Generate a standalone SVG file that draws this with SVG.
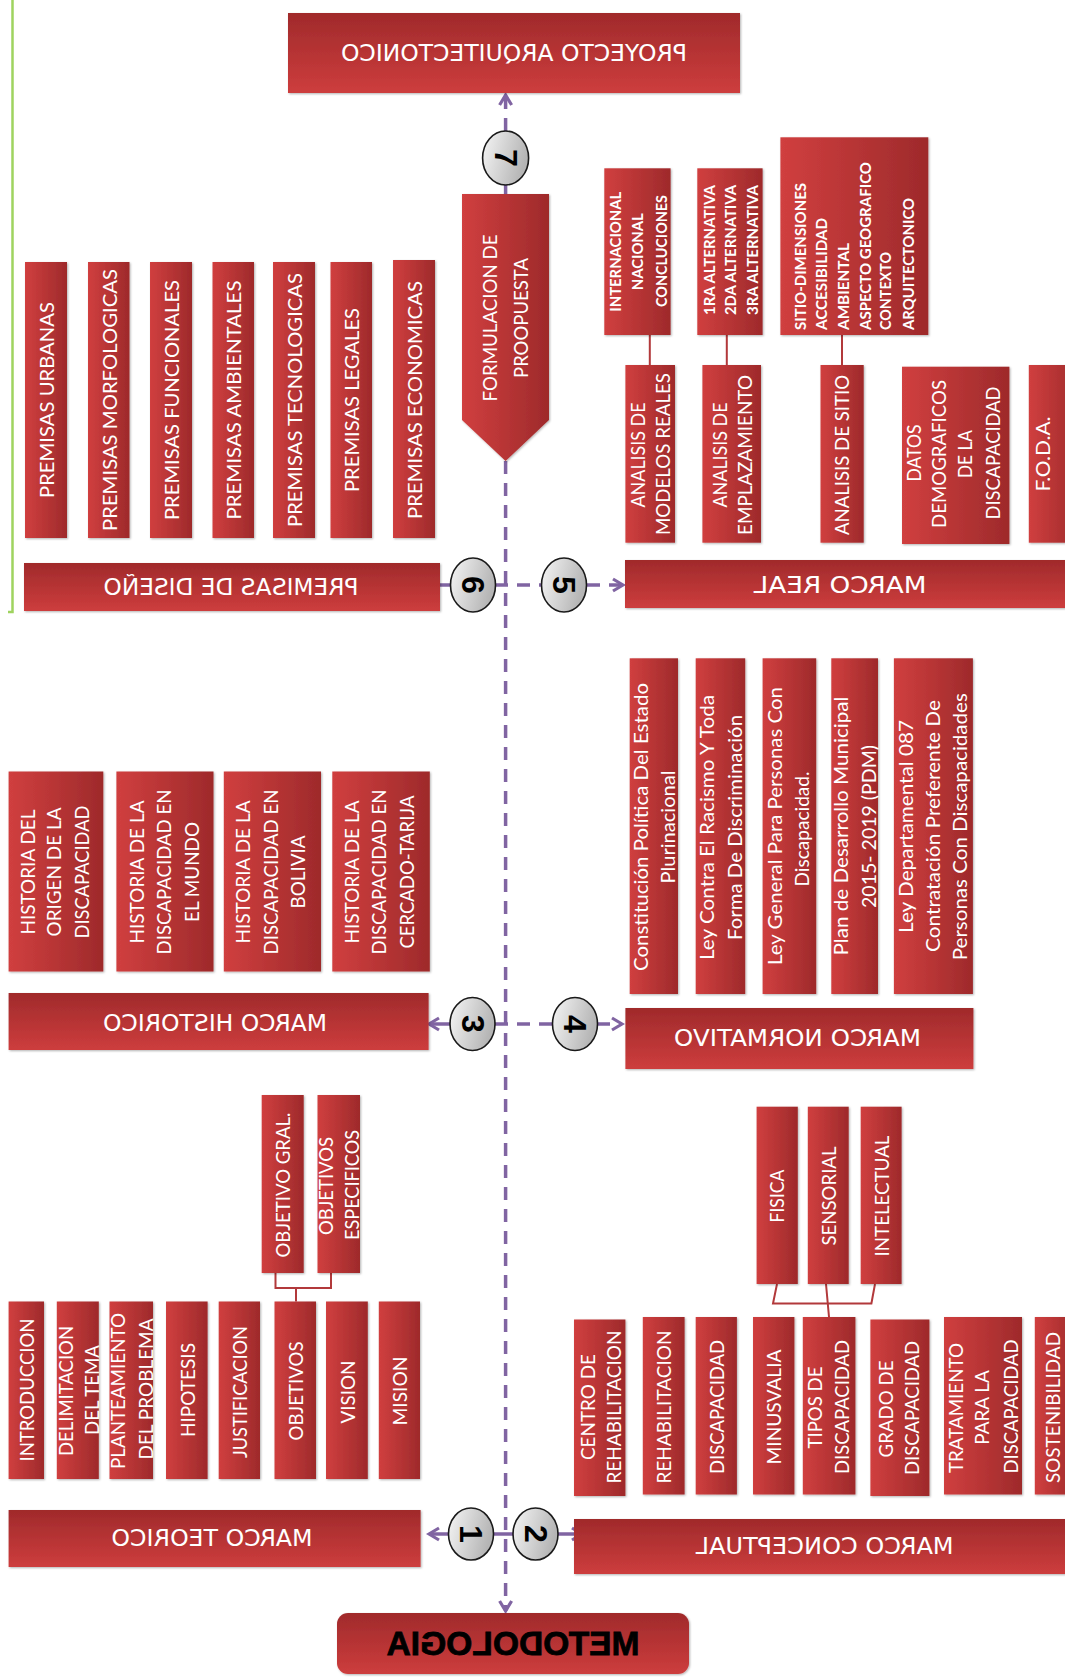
<svg xmlns="http://www.w3.org/2000/svg" width="1065" height="1679" viewBox="0 0 1065 1679">
<defs>
<linearGradient id="gv" x1="0" y1="0" x2="1" y2="0"><stop offset="0" stop-color="#d03f3f"/><stop offset="1" stop-color="#9e2a2b"/></linearGradient>
<linearGradient id="gh" x1="0" y1="0" x2="0" y2="1"><stop offset="0" stop-color="#a02a2b"/><stop offset="1" stop-color="#cd3d3d"/></linearGradient>
<linearGradient id="gc" x1="0" y1="0" x2="1" y2="0.3"><stop offset="0" stop-color="#f6f6f6"/><stop offset="1" stop-color="#b5b5b5"/></linearGradient>
<filter id="sh" x="-10%" y="-10%" width="125%" height="125%"><feDropShadow dx="1" dy="1" stdDeviation="1" flood-color="#000" flood-opacity="0.3"/></filter>
<marker id="ah" markerUnits="userSpaceOnUse" markerWidth="16" markerHeight="16" viewBox="0 0 16 16" refX="13" refY="8" orient="auto"><path d="M3,2 L13,8 L3,14" fill="none" stroke="#8064A2" stroke-width="3.2"/></marker>
</defs>
<style>
.v{fill:url(#gv);filter:url(#sh)}
.h{fill:url(#gh);filter:url(#sh)}
.t{font-family:Lato,"Open Sans",sans-serif;font-size:19px;fill:#fff;text-anchor:middle;dominant-baseline:central}
.tb{font-weight:bold;font-size:15px}
.s{text-anchor:start}
.ht{font-family:"DejaVu Sans",sans-serif;font-size:23px;fill:#fff;text-anchor:middle;dominant-baseline:central}
.cn{fill:none;stroke:#b2393b;stroke-width:2}
.d{fill:none;stroke:#8064A2;stroke-width:3.5;stroke-dasharray:13 9}
.a{fill:none;stroke:#8064A2;stroke-width:3.5}
.c{fill:url(#gc);stroke:#1a1a1a;stroke-width:1.6}
.n{font-family:"Liberation Sans",sans-serif;font-weight:bold;font-size:32px;fill:#000;text-anchor:middle;dominant-baseline:central}
.g{fill:none;stroke:#9fd35f;stroke-width:2.5}
</style>

<path class="g" d="M12.5,0 V612 H8"/>

<g id="connectors">
<path class="d" d="M505.6,461 V1611" marker-end="url(#ah)"/>
<path class="d" d="M505.6,131 V95" marker-end="url(#ah)"/>
<path class="d" d="M505.6,185 V194"/>
<path class="a" d="M451,585 H422" marker-end="url(#ah)"/>
<path class="d" d="M495,585 H542"/>
<path class="d" d="M587,585 H623" marker-end="url(#ah)"/>
<path class="a" d="M450,1024 H429" marker-end="url(#ah)"/>
<path class="d" d="M495,1024 H553"/>
<path class="d" d="M597,1024 H622" marker-end="url(#ah)"/>
<path class="a" d="M448.5,1534 H429" marker-end="url(#ah)"/>
<path class="a" d="M493.5,1534 H513"/>
<path class="a" d="M558,1534 H582" marker-end="url(#ah)"/>
<path class="cn" d="M649.8,335 V365 M726.8,335 V365 M842,335 V365"/>
<path class="cn" d="M275.5,1273 V1288 H331 V1273 M296,1288 V1301.5"/>
<path class="cn" d="M777,1284 L773,1303.5 H871.4 L875,1284 M826,1284 L829,1317"/>
</g>

<g id="proyecto"><rect class="h" x="288" y="13" width="452" height="80"/>
<text class="ht" transform="translate(514,53) scale(-1,1)" textLength="346" lengthAdjust="spacingAndGlyphs">PROYECTO ARQUITECTONICO</text></g>

<g id="formulacion"><polygon class="v" points="462,194 549,194 549,420 505.6,461 462,420"/>
<text class="t" transform="translate(489,318) rotate(-90)" style="font-size:20px" textLength="167" lengthAdjust="spacingAndGlyphs">FORMULACION DE</text>
<text class="t" transform="translate(520,318) rotate(-90)" style="font-size:20px" textLength="120" lengthAdjust="spacingAndGlyphs">PROOPUESTA</text></g>

<g id="n7"><ellipse class="c" cx="505.6" cy="158" rx="23" ry="27"/><text class="n" transform="translate(505.6,158) rotate(90)">7</text></g>
<g id="n6"><ellipse class="c" cx="473" cy="585" rx="22.5" ry="27"/><text class="n" transform="translate(473,585) rotate(90)">6</text></g>
<g id="n5"><ellipse class="c" cx="564" cy="585" rx="22.5" ry="27"/><text class="n" transform="translate(564,585) rotate(90)">5</text></g>
<g id="n3"><ellipse class="c" cx="472.5" cy="1024" rx="22.5" ry="26.5"/><text class="n" transform="translate(472.5,1024) rotate(90)">3</text></g>
<g id="n4"><ellipse class="c" cx="575" cy="1024" rx="22.5" ry="26.5"/><text class="n" transform="translate(575,1024) rotate(90)">4</text></g>
<g id="n1"><ellipse class="c" cx="471" cy="1534" rx="22.5" ry="26"/><text class="n" transform="translate(471,1534) rotate(90)">1</text></g>
<g id="n2"><ellipse class="c" cx="535.5" cy="1534" rx="22.5" ry="26"/><text class="n" transform="translate(535.5,1534) rotate(90)">2</text></g>

<g id="premisas-diseno"><rect class="h" x="24" y="563" width="416" height="48"/>
<text class="ht" transform="translate(231,587) scale(-1,1)" textLength="255" lengthAdjust="spacingAndGlyphs">PREMISAS DE DISEÑO</text></g>
<g id="p-urbanas"><rect class="v" x="25" y="262" width="42" height="276"/><text class="t" style="font-size:20px" transform="translate(46,400) rotate(-90)" textLength="196" lengthAdjust="spacingAndGlyphs">PREMISAS URBANAS</text></g>
<g id="p-morfologicas"><rect class="v" x="88" y="262" width="41.5" height="276"/><text class="t" style="font-size:20px" transform="translate(108.7,400) rotate(-90)" textLength="262" lengthAdjust="spacingAndGlyphs">PREMISAS MORFOLOGICAS</text></g>
<g id="p-funcionales"><rect class="v" x="150" y="262" width="42" height="276"/><text class="t" style="font-size:20px" transform="translate(171,400) rotate(-90)" textLength="240" lengthAdjust="spacingAndGlyphs">PREMISAS FUNCIONALES</text></g>
<g id="p-ambientales"><rect class="v" x="212.5" y="262" width="41.5" height="276"/><text class="t" style="font-size:20px" transform="translate(233,400) rotate(-90)" textLength="239" lengthAdjust="spacingAndGlyphs">PREMISAS AMBIENTALES</text></g>
<g id="p-tecnologicas"><rect class="v" x="273" y="262" width="42" height="276"/><text class="t" style="font-size:20px" transform="translate(294,400) rotate(-90)" textLength="254" lengthAdjust="spacingAndGlyphs">PREMISAS TECNOLOGICAS</text></g>
<g id="p-legales"><rect class="v" x="330.5" y="262" width="41.5" height="276"/><text class="t" style="font-size:20px" transform="translate(351,400) rotate(-90)" textLength="184" lengthAdjust="spacingAndGlyphs">PREMISAS LEGALES</text></g>
<g id="p-economicas"><rect class="v" x="393" y="260" width="42" height="278"/><text class="t" style="font-size:20px" transform="translate(414,400) rotate(-90)" textLength="238" lengthAdjust="spacingAndGlyphs">PREMISAS ECONOMICAS</text></g>

<g id="marco-real"><rect class="h" x="625" y="560" width="460" height="48"/>
<text class="ht" transform="translate(840,585) scale(-1,1)" textLength="173" lengthAdjust="spacingAndGlyphs">MARCO  REAL</text></g>
<g id="r-modelos"><rect class="v" x="625.4" y="365" width="49.6" height="177.7"/>
<text class="t" style="font-size:19.5px" transform="translate(637,455) rotate(-90)" textLength="105" lengthAdjust="spacingAndGlyphs">ANALISIS DE</text>
<text class="t" style="font-size:19.5px" transform="translate(662,454) rotate(-90)" textLength="162" lengthAdjust="spacingAndGlyphs">MODELOS REALES</text></g>
<g id="r-emplazamiento"><rect class="v" x="702.4" y="365" width="58.6" height="177.7"/>
<text class="t" style="font-size:19.5px" transform="translate(719,455) rotate(-90)" textLength="105" lengthAdjust="spacingAndGlyphs">ANALISIS DE</text>
<text class="t" style="font-size:19.5px" transform="translate(744,455) rotate(-90)" textLength="160" lengthAdjust="spacingAndGlyphs">EMPLAZAMIENTO</text></g>
<g id="r-sitio"><rect class="v" x="820.5" y="365" width="43.2" height="177.7"/>
<text class="t" style="font-size:19.5px" transform="translate(841.5,455) rotate(-90)" textLength="160" lengthAdjust="spacingAndGlyphs">ANALISIS DE SITIO</text></g>
<g id="r-datos"><rect class="v" x="902" y="366.7" width="107.4" height="177.3"/>
<text class="t" style="font-size:19.5px" transform="translate(913.3,453) rotate(-90)" textLength="57" lengthAdjust="spacingAndGlyphs">DATOS</text>
<text class="t" style="font-size:19.5px" transform="translate(938.4,454) rotate(-90)" textLength="148" lengthAdjust="spacingAndGlyphs">DEMOGRAFICOS</text>
<text class="t" style="font-size:19.5px" transform="translate(964.5,454) rotate(-90)" textLength="48" lengthAdjust="spacingAndGlyphs">DE LA</text>
<text class="t" style="font-size:19.5px" transform="translate(992,453) rotate(-90)" textLength="133" lengthAdjust="spacingAndGlyphs">DISCAPACIDAD</text></g>
<g id="r-foda"><rect class="v" x="1028.8" y="365" width="50" height="177.7"/>
<text class="t" style="font-size:19.5px" transform="translate(1042,454) rotate(-90)" textLength="75" lengthAdjust="spacingAndGlyphs">F.O.D.A.</text></g>
<g id="r-internacional"><rect class="v" x="604.3" y="168.3" width="66.3" height="166.7"/>
<text class="t tb" transform="translate(615.3,251.7) rotate(-90)" textLength="120" lengthAdjust="spacingAndGlyphs">INTERNACIONAL</text>
<text class="t tb" transform="translate(637,251.7) rotate(-90)" textLength="77" lengthAdjust="spacingAndGlyphs">NACIONAL</text>
<text class="t tb" transform="translate(660.5,251) rotate(-90)" textLength="112" lengthAdjust="spacingAndGlyphs">CONCLUCIONES</text></g>
<g id="r-alternativas"><rect class="v" x="697.3" y="168.3" width="65.3" height="166.7"/>
<text class="t tb" transform="translate(709,250) rotate(-90)" textLength="130" lengthAdjust="spacingAndGlyphs">1RA  ALTERNATIVA</text>
<text class="t tb" transform="translate(730.2,250) rotate(-90)" textLength="130" lengthAdjust="spacingAndGlyphs">2DA ALTERNATIVA</text>
<text class="t tb" transform="translate(751.6,250) rotate(-90)" textLength="130" lengthAdjust="spacingAndGlyphs">3RA  ALTERNATIVA</text></g>
<g id="r-sitio-detalle"><rect class="v" x="780.4" y="137.3" width="147.9" height="197.7"/>
<text class="t tb s" transform="translate(799.5,330) rotate(-90)" textLength="147" lengthAdjust="spacingAndGlyphs">SITIO-DIMENSIONES</text>
<text class="t tb s" transform="translate(821.2,330) rotate(-90)" textLength="112" lengthAdjust="spacingAndGlyphs">ACCESIBILIDAD</text>
<text class="t tb s" transform="translate(843,330) rotate(-90)" textLength="87" lengthAdjust="spacingAndGlyphs">AMBIENTAL</text>
<text class="t tb s" transform="translate(864.7,330) rotate(-90)" textLength="168" lengthAdjust="spacingAndGlyphs">ASPECTO  GEOGRAFICO</text>
<text class="t tb s" transform="translate(884.8,330) rotate(-90)" textLength="78" lengthAdjust="spacingAndGlyphs">CONTEXTO</text>
<text class="t tb s" transform="translate(908.3,330) rotate(-90)" textLength="132" lengthAdjust="spacingAndGlyphs">ARQUITECTONICO</text></g>

<g id="marco-historico"><rect class="h" x="8.6" y="993" width="420" height="57"/>
<text class="ht" transform="translate(215,1022.7) scale(-1,1)" textLength="224" lengthAdjust="spacingAndGlyphs">MARCO HISTORICO</text></g>
<g id="h-origen"><rect class="v" x="8.6" y="771.5" width="94.7" height="200"/>
<text class="t" transform="translate(27.5,872) rotate(-90)" textLength="125" lengthAdjust="spacingAndGlyphs">HISTORIA DEL</text>
<text class="t" transform="translate(53.4,872) rotate(-90)" textLength="129" lengthAdjust="spacingAndGlyphs">ORIGEN DE LA</text>
<text class="t" transform="translate(81,872) rotate(-90)" textLength="133" lengthAdjust="spacingAndGlyphs">DISCAPACIDAD</text></g>
<g id="h-mundo"><rect class="v" x="116.4" y="771.5" width="97.1" height="200"/>
<text class="t" transform="translate(136,872) rotate(-90)" textLength="143" lengthAdjust="spacingAndGlyphs">HISTORIA DE LA</text>
<text class="t" transform="translate(163.6,872) rotate(-90)" textLength="165" lengthAdjust="spacingAndGlyphs">DISCAPACIDAD EN</text>
<text class="t" transform="translate(191,872) rotate(-90)" textLength="100" lengthAdjust="spacingAndGlyphs">EL MUNDO</text></g>
<g id="h-bolivia"><rect class="v" x="223.8" y="771.5" width="97.2" height="200"/>
<text class="t" transform="translate(242.8,872) rotate(-90)" textLength="143" lengthAdjust="spacingAndGlyphs">HISTORIA DE LA</text>
<text class="t" transform="translate(270.3,872) rotate(-90)" textLength="165" lengthAdjust="spacingAndGlyphs">DISCAPACIDAD EN</text>
<text class="t" transform="translate(297.9,872) rotate(-90)" textLength="73" lengthAdjust="spacingAndGlyphs">BOLIVIA</text></g>
<g id="h-tarija"><rect class="v" x="332.3" y="771.5" width="97.5" height="200"/>
<text class="t" transform="translate(351,872) rotate(-90)" textLength="143" lengthAdjust="spacingAndGlyphs">HISTORIA DE LA</text>
<text class="t" transform="translate(378.8,872) rotate(-90)" textLength="165" lengthAdjust="spacingAndGlyphs">DISCAPACIDAD EN</text>
<text class="t" transform="translate(406,872) rotate(-90)" textLength="153" lengthAdjust="spacingAndGlyphs">CERCADO-TARIJA</text></g>

<g id="marco-normativo"><rect class="h" x="625.4" y="1008" width="348" height="61"/>
<text class="ht" transform="translate(797.5,1038) scale(-1,1)" textLength="247" lengthAdjust="spacingAndGlyphs">MARCO NORMATIVO</text></g>
<g id="nm-constitucion"><rect class="v" x="629.7" y="658.3" width="48.3" height="335.7"/>
<text class="t" style="font-size:20px" transform="translate(640.4,827) rotate(-90)" textLength="288" lengthAdjust="spacingAndGlyphs">Constitución  Política Del Estado</text>
<text class="t" style="font-size:20px" transform="translate(667.2,827) rotate(-90)" textLength="113" lengthAdjust="spacingAndGlyphs">Plurinacional</text></g>
<g id="nm-racismo"><rect class="v" x="695.7" y="658.3" width="49.5" height="335.7"/>
<text class="t" style="font-size:20px" transform="translate(705.7,827.5) rotate(-90)" textLength="265" lengthAdjust="spacingAndGlyphs">Ley Contra El Racismo  Y Toda</text>
<text class="t" style="font-size:20px" transform="translate(733.5,827.5) rotate(-90)" textLength="225" lengthAdjust="spacingAndGlyphs">Forma  De Discriminación</text></g>
<g id="nm-ley-general"><rect class="v" x="762.6" y="658.3" width="53.6" height="335.7"/>
<text class="t" style="font-size:20px" transform="translate(774.3,826) rotate(-90)" textLength="278" lengthAdjust="spacingAndGlyphs">Ley General Para Personas Con</text>
<text class="t" style="font-size:20px" transform="translate(801,829) rotate(-90)" textLength="115" lengthAdjust="spacingAndGlyphs">Discapacidad.</text></g>
<g id="nm-pdm"><rect class="v" x="831.3" y="658.3" width="46.7" height="335.7"/>
<text class="t" style="font-size:20px" transform="translate(839.6,826) rotate(-90)" textLength="259" lengthAdjust="spacingAndGlyphs">Plan de Desarrollo Municipal</text>
<text class="t" style="font-size:20px" transform="translate(868,826.5) rotate(-90)" textLength="163" lengthAdjust="spacingAndGlyphs">2015- 2019 (PDM)</text></g>
<g id="nm-ley-087"><rect class="v" x="893.9" y="658.3" width="79" height="335.7"/>
<text class="t" style="font-size:20px" transform="translate(905,826.5) rotate(-90)" textLength="213" lengthAdjust="spacingAndGlyphs">Ley Departamental 087</text>
<text class="t" style="font-size:20px" transform="translate(931.7,826) rotate(-90)" textLength="252" lengthAdjust="spacingAndGlyphs">Contratación  Preferente De</text>
<text class="t" style="font-size:20px" transform="translate(958.5,826.7) rotate(-90)" textLength="267" lengthAdjust="spacingAndGlyphs">Personas  Con  Discapacidades</text></g>

<g id="marco-teorico"><rect class="h" x="8.6" y="1510" width="412" height="57"/>
<text class="ht" transform="translate(212,1538) scale(-1,1)" textLength="201" lengthAdjust="spacingAndGlyphs">MARCO TEORICO</text></g>
<g id="t-introduccion"><rect class="v" x="8.6" y="1301.5" width="35.4" height="177.5"/><text class="t" transform="translate(26,1390) rotate(-90)" textLength="143" lengthAdjust="spacingAndGlyphs">INTRODUCCION</text></g>
<g id="t-delimitacion"><rect class="v" x="56.8" y="1301.5" width="42" height="177.5"/>
<text class="t" transform="translate(65,1391) rotate(-90)" textLength="130" lengthAdjust="spacingAndGlyphs">DELIMITACION</text>
<text class="t" transform="translate(91,1390) rotate(-90)" textLength="90" lengthAdjust="spacingAndGlyphs">DEL TEMA</text></g>
<g id="t-planteamiento"><rect class="v" x="109.5" y="1301.5" width="43.5" height="177.5"/>
<text class="t" transform="translate(117,1391) rotate(-90)" textLength="156" lengthAdjust="spacingAndGlyphs">PLANTEAMIENTO</text>
<text class="t" transform="translate(145,1389) rotate(-90)" textLength="141" lengthAdjust="spacingAndGlyphs">DEL PROBLEMA</text></g>
<g id="t-hipotesis"><rect class="v" x="166" y="1301.5" width="41.6" height="177.5"/><text class="t" transform="translate(187,1390) rotate(-90)" textLength="94" lengthAdjust="spacingAndGlyphs">HIPOTESIS</text></g>
<g id="t-justificacion"><rect class="v" x="218.7" y="1301.5" width="41.3" height="177.5"/><text class="t" transform="translate(239,1392) rotate(-90)" textLength="132" lengthAdjust="spacingAndGlyphs">JUSTIFICACION</text></g>
<g id="t-objetivos"><rect class="v" x="274.5" y="1301.5" width="41.5" height="177.5"/><text class="t" transform="translate(295,1391) rotate(-90)" textLength="99" lengthAdjust="spacingAndGlyphs">OBJETIVOS</text></g>
<g id="t-vision"><rect class="v" x="326" y="1301.5" width="41.8" height="177.5"/><text class="t" transform="translate(347,1392) rotate(-90)" textLength="63" lengthAdjust="spacingAndGlyphs">VISION</text></g>
<g id="t-mision"><rect class="v" x="378.8" y="1301.5" width="41.2" height="177.5"/><text class="t" transform="translate(399.5,1391) rotate(-90)" textLength="69" lengthAdjust="spacingAndGlyphs">MISION</text></g>
<g id="t-objetivo-gral"><rect class="v" x="261.7" y="1095" width="42" height="178"/><text class="t" transform="translate(282.7,1185) rotate(-90)" textLength="145" lengthAdjust="spacingAndGlyphs">OBJETIVO GRAL.</text></g>
<g id="t-objetivos-esp"><rect class="v" x="317.5" y="1095" width="42.5" height="178"/>
<text class="t" transform="translate(325.4,1186) rotate(-90)" textLength="98" lengthAdjust="spacingAndGlyphs">OBJETIVOS</text>
<text class="t" transform="translate(351,1185) rotate(-90)" textLength="110" lengthAdjust="spacingAndGlyphs">ESPECIFICOS</text></g>

<g id="marco-conceptual"><rect class="h" x="574" y="1519" width="511" height="55"/>
<text class="ht" transform="translate(824.6,1546) scale(-1,1)" textLength="258" lengthAdjust="spacingAndGlyphs">MARCO CONCEPTUAL</text></g>
<g id="c-centro"><rect class="v" x="574" y="1319.5" width="51.4" height="176.5"/>
<text class="t" transform="translate(587,1407) rotate(-90)" textLength="106" lengthAdjust="spacingAndGlyphs">CENTRO DE</text>
<text class="t" transform="translate(613,1407) rotate(-90)" textLength="153" lengthAdjust="spacingAndGlyphs">REHABILITACION</text></g>
<g id="c-rehabilitacion"><rect class="v" x="642.8" y="1317" width="41.8" height="177.5"/><text class="t" transform="translate(663,1407) rotate(-90)" textLength="153" lengthAdjust="spacingAndGlyphs">REHABILITACION</text></g>
<g id="c-discapacidad"><rect class="v" x="695.7" y="1317" width="41.2" height="177.5"/><text class="t" transform="translate(716,1407) rotate(-90)" textLength="134" lengthAdjust="spacingAndGlyphs">DISCAPACIDAD</text></g>
<g id="c-minusvalia"><rect class="v" x="753" y="1317" width="41.4" height="177.5"/><text class="t" transform="translate(773.5,1407) rotate(-90)" textLength="115" lengthAdjust="spacingAndGlyphs">MINUSVALIA</text></g>
<g id="c-tipos"><rect class="v" x="802.8" y="1317" width="52.6" height="177.5"/>
<text class="t" transform="translate(814.5,1407.5) rotate(-90)" textLength="82" lengthAdjust="spacingAndGlyphs">TIPOS DE</text>
<text class="t" transform="translate(841.3,1407) rotate(-90)" textLength="134" lengthAdjust="spacingAndGlyphs">DISCAPACIDAD</text></g>
<g id="c-grado"><rect class="v" x="870.4" y="1319.5" width="59" height="176.5"/>
<text class="t" transform="translate(885,1409) rotate(-90)" textLength="97" lengthAdjust="spacingAndGlyphs">GRADO DE</text>
<text class="t" transform="translate(911.6,1408) rotate(-90)" textLength="134" lengthAdjust="spacingAndGlyphs">DISCAPACIDAD</text></g>
<g id="c-tratamiento"><rect class="v" x="944" y="1317" width="78" height="177.5"/>
<text class="t" transform="translate(955,1408) rotate(-90)" textLength="130" lengthAdjust="spacingAndGlyphs">TRATAMIENTO</text>
<text class="t" transform="translate(981,1407.5) rotate(-90)" textLength="74.5" lengthAdjust="spacingAndGlyphs">PARA LA</text>
<text class="t" transform="translate(1010,1406.5) rotate(-90)" textLength="134" lengthAdjust="spacingAndGlyphs">DISCAPACIDAD</text></g>
<g id="c-sostenibilidad"><rect class="v" x="1034.8" y="1317" width="42" height="177.5"/><text class="t" transform="translate(1052.5,1407.5) rotate(-90)" textLength="151" lengthAdjust="spacingAndGlyphs">SOSTENIBILIDAD</text></g>
<g id="c-fisica"><rect class="v" x="756.6" y="1106.7" width="41.2" height="177.3"/><text class="t" transform="translate(776.5,1196) rotate(-90)" textLength="53" lengthAdjust="spacingAndGlyphs">FISICA</text></g>
<g id="c-sensorial"><rect class="v" x="807.8" y="1106.7" width="40.9" height="177.3"/><text class="t" transform="translate(828,1196) rotate(-90)" textLength="99" lengthAdjust="spacingAndGlyphs">SENSORIAL</text></g>
<g id="c-intelectual"><rect class="v" x="860.7" y="1106.7" width="40.9" height="177.3"/><text class="t" transform="translate(881,1196) rotate(-90)" textLength="121" lengthAdjust="spacingAndGlyphs">INTELECTUAL</text></g>

<g id="metodologia"><rect class="h" x="337" y="1613" width="352" height="61" rx="11"/>
<text transform="translate(513,1643) scale(-1,1)" style="font-family:'Liberation Sans',Arial,sans-serif;font-weight:bold;font-size:34px;fill:#000;text-anchor:middle;dominant-baseline:central;stroke:#000;stroke-width:0.8" textLength="253" lengthAdjust="spacingAndGlyphs">METODOLOGIA</text></g>
</svg>
